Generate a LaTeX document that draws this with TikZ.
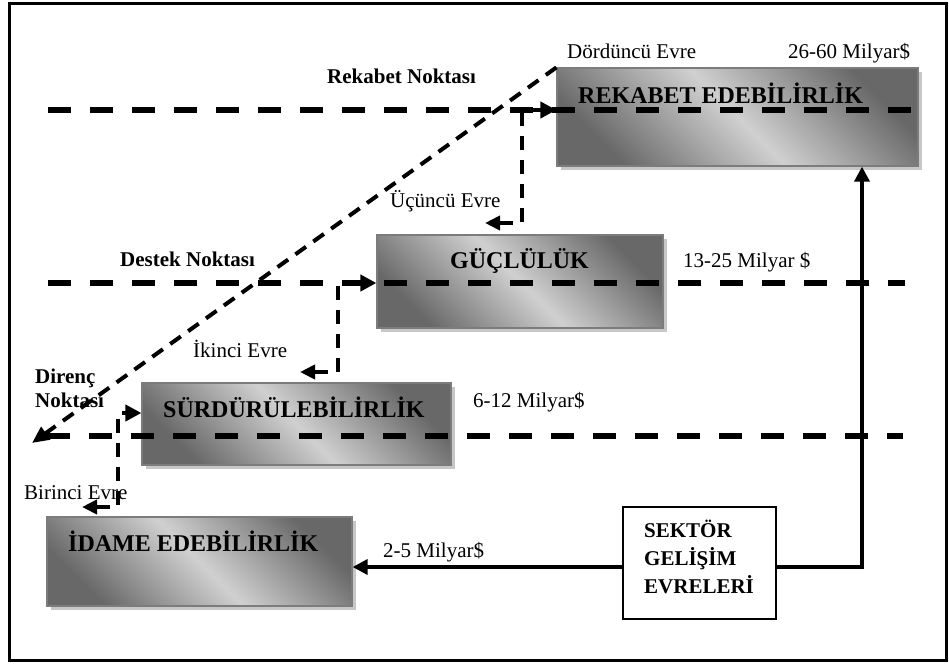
\documentclass[tikz,border=0pt]{standalone}
\usepackage{fontspec}
\setmainfont{Liberation Serif}
\usetikzlibrary{arrows.meta,shadows}
\definecolor{boxdark}{HTML}{686868}
\definecolor{boxlight}{HTML}{D0D0D0}
\definecolor{boxedge}{HTML}{7C7C7C}
\begin{document}
\begin{tikzpicture}[x=1pt,y=-1pt,
  stagebox/.style={draw=boxedge, line width=1.2pt, inner sep=0pt,
    top color=boxdark, bottom color=boxdark, middle color=boxlight, shading angle=-45,
    general shadow={fill=black!22, shadow xshift=4pt, shadow yshift=-4pt}},
  plainbox/.style={draw=black, line width=1.5pt, fill=white, inner sep=0pt},
  thickdash/.style={line width=6pt, dash pattern=on 23pt off 19pt},
  conn/.style={line width=4pt, dash pattern=on 14pt off 10pt, line join=miter,
    {Triangle[length=15pt,width=14pt]}-{Triangle[length=16pt,width=16pt]}},
  diag/.style={line width=4pt, dash pattern=on 13pt off 9pt,
    -{Triangle[length=17pt,width=15pt]}},
  solidarrow/.style={line width=3.5pt, line join=miter, -{Triangle[length=15pt,width=15pt]}},
  lbl/.style={inner sep=0pt, anchor=base west, font=\fontsize{21}{25}\selectfont},
  blbl/.style={inner sep=0pt, anchor=base west, font=\fontsize{21}{25}\selectfont\bfseries},
  ttl/.style={inner sep=0pt, anchor=base west, font=\fontsize{24}{28}\selectfont\bfseries}]
\useasboundingbox (0,0) rectangle (949,664);
\draw[line width=3pt] (9,3) rectangle (946,660);

% stage boxes
\node[stagebox, minimum width=361pt, minimum height=98pt] (rek) at (737.5,117) {};
\node[stagebox, minimum width=286pt, minimum height=93pt] (guc) at (520,281.5) {};
\node[stagebox, minimum width=309pt, minimum height=82pt] (sur) at (296.5,424) {};
\node[stagebox, minimum width=305pt, minimum height=89pt] (ida) at (199.5,561.5) {};
\node[plainbox, minimum width=153pt, minimum height=112pt] (sek) at (699.5,563) {};

% level lines
\coordinate (rekL) at (48,110);
\coordinate (desL) at (48,283);
\coordinate (desR) at (905,283);
\coordinate (dirL) at (47,436);
\coordinate (dirR) at (903,436);
\draw[thickdash] (rekL) -- (rekL -| rek.east);
\draw[thickdash] (desL) -- (desR);
\draw[thickdash] (dirL) -- (dirR);

% diagonal
\coordinate (diagEnd) at (32,443);
\draw[diag] (rek.north west) -- (diagEnd);

% stage connectors
\coordinate (c3) at (485,223);
\coordinate (k3) at (522,223);
\coordinate (c2) at (300,372);
\coordinate (k2) at (338,372);
\coordinate (c1) at (82,507);
\coordinate (k1) at (118,507);
\draw[conn] (c3) -- (k3) -- (k3 |- rekL) -- (rekL -| rek.west);
\draw[conn] (c2) -- (k2) -- (k2 |- desL) -- (desL -| guc.west);
\draw[conn] (c1) -- (k1) -- (118,413) -- (sur.west |- 0,413);

% solid connectors
\coordinate (sy) at (0,567);
\coordinate (corner) at (862,567);
\draw[solidarrow] (sek.west |- sy) -- (ida.east |- sy);
\draw[solidarrow] (sek.east |- sy) -- (corner) -- (corner |- rek.south);

% texts
\node[lbl] (t4) at (567,58) {Dördüncü Evre};
\node[lbl] (m4) at (788,58) {26-60 Milyar\$};
\node[blbl] (rn) at (327,83) {Rekabet Noktası};
\node[ttl] (rekt) at (578,103) {REKABET EDEBİLİRLİK};
\node[lbl] (t3) at (390,207) {Üçüncü Evre};
\node[blbl] (dn) at (120,266) {Destek Noktası};
\node[ttl] (guct) at (450,268) {GÜÇLÜLÜK};
\node[lbl] (m3) at (683,267) {13-25 Milyar \$};
\node[lbl] (t2) at (193,357) {İkinci Evre};
\node[blbl] (dr1) at (35,383) {Direnç};
\node[blbl] (dr2) at (35,407) {Noktası};
\node[ttl] (surt) at (163,417) {SÜRDÜRÜLEBİLİRLİK};
\node[lbl] (m2) at (473,407) {6-12 Milyar\$};
\node[lbl] (t1) at (24,499) {Birinci Evre};
\node[ttl] (idat) at (68,551) {İDAME EDEBİLİRLİK};
\node[lbl] (m1) at (383,557) {2-5 Milyar\$};
\node[blbl] (s1) at (644,537) {SEKTÖR};
\node[blbl] (s2) at (644,565) {GELİŞİM};
\node[blbl] (s3) at (644,593) {EVRELERİ};
\end{tikzpicture}
\end{document}
